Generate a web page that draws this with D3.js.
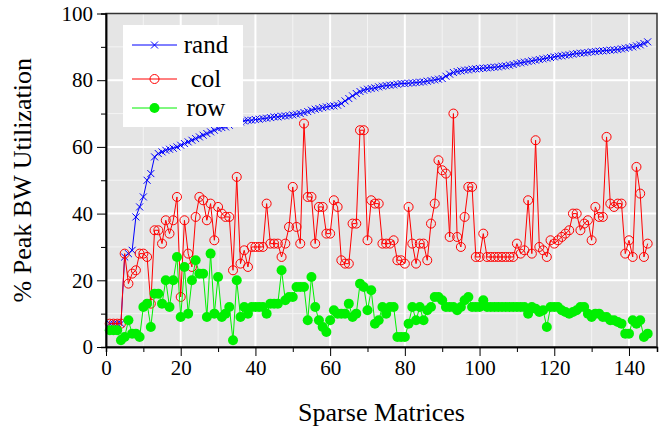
<!DOCTYPE html>
<html>
<head>
<meta charset="utf-8">
<script src="https://cdn.jsdelivr.net/npm/d3@7"></script>
<style>
  body { margin: 0; background: #fff; }
  svg { display: block; }
</style>
</head>
<body>
<div id="chart"></div>
<script>
const width = 663;
const height = 433;
const margin = { top: 13.5, right: 6, bottom: 86, left: 106 };
const serif = "'Liberation Serif', 'Times New Roman', Times, 'DejaVu Serif', serif";

const seriesNames = ["rand", "col", "row"];
const xTicks = [0, 20, 40, 60, 80, 100, 120, 140];
const yTicks = [0, 20, 40, 60, 80, 100];

// one value per sparse matrix (matrix 1 .. 145)
const randVals = [7, 7, 7, 7, 27, 28, 29, 39, 42, 45, 50, 52, 57, 58, 58.5, 59, 59.3, 59.6, 60, 60.5,
  61, 61.5, 62, 62.5, 63, 63.5, 64, 64.5, 65, 65.5, 65.8, 66, 66.5, 67, 67.2, 67.5, 67.8, 68, 68, 68.2,
  68.3, 68.5, 68.6, 68.8, 69, 69, 69.2, 69.3, 69.4, 69.6, 69.8, 70, 70.3, 70.6, 71, 71.3, 71.5, 71.8, 72, 72.2,
  72.3, 72.5, 73, 73.8, 74.5, 75.3, 76, 76.6, 77, 77.3, 77.5, 77.7, 78, 78.2, 78.4, 78.5, 78.6, 78.8, 79, 79,
  79.1, 79.2, 79.3, 79.4, 79.5, 79.7, 79.9, 80.1, 80.3, 80.5, 81.2, 81.8, 82.3, 82.6, 82.8, 83, 83.1, 83.3, 83.4, 83.5,
  83.6, 83.7, 83.8, 83.9, 84, 84.2, 84.3, 84.5, 84.7, 85, 85.2, 85.4, 85.6, 85.8, 86, 86.2, 86.4, 86.6, 86.8, 87,
  87.2, 87.3, 87.5, 87.6, 87.8, 88, 88.1, 88.2, 88.3, 88.5, 88.6, 88.7, 88.8, 88.9, 89, 89.1, 89.2, 89.4, 89.6, 89.8,
  90, 90.3, 90.6, 91, 91.5];

const colVals = [7, 7, 7, 7, 28, 19, 22, 23, 28, 28, 27, 13, 35, 35, 31, 38, 34, 38, 45, 15,
  38, 28, 24, 39, 45, 44, 38, 43, 32, 42, 40, 39, 39, 23, 51, 25, 29, 24, 30, 30,
  30, 30, 43, 31, 31, 31, 27, 31, 36, 48, 36, 31, 67, 45, 45, 31, 42, 42, 34, 34,
  44, 42, 26, 25, 25, 37, 37, 65, 65, 32, 44, 43, 43, 31, 31, 31, 32, 26, 26, 25,
  42, 31, 25, 31, 31, 26, 37, 43, 56, 53, 52, 33, 70, 33, 30, 39, 48, 48, 27, 27,
  34, 27, 27, 27, 27, 27, 27, 27, 27, 31, 28, 29, 44, 28, 62, 30, 29, 27, 32, 31,
  32, 33, 34, 35, 40, 40, 35, 37, 38, 32, 42, 39, 39, 63, 43, 42, 43, 43, 28, 32,
  27, 54, 46, 27, 31];

const rowVals = [5, 5, 5, 2, 3, 8, 4, 4, 3, 12, 13, 6, 16, 16, 13, 20, 12, 20, 27, 9,
  24, 10, 20, 26, 22, 22, 9, 28, 10, 21, 9, 10, 12, 2, 20, 9, 12, 10, 12, 12,
  12, 12, 10, 13, 13, 13, 23, 14, 15, 15, 18, 18, 18, 8, 21, 12, 8, 6, 4.5, 8,
  11, 10, 10, 10, 13, 9, 10, 19, 18, 11, 17, 7, 8, 12, 10, 12, 12, 3, 3, 3,
  7, 12, 8, 12, 8, 11, 12, 15, 15, 14, 12, 12, 12, 11, 12, 14, 15, 12, 12, 12,
  14, 12, 12, 12, 12, 12, 12, 12, 12, 12, 12, 12, 10, 12, 11.5, 10.5, 11, 6, 12, 12,
  12, 11, 10.5, 10, 10.5, 11, 12, 12, 10, 9, 10, 10, 9, 9, 8, 8, 7.5, 7, 4, 4,
  8, 7, 8, 3, 4];

const colors = { rand: "#0000ff", col: "#ff0000", row: "#00f000" };

const svg = d3.select("#chart").append("svg")
  .attr("width", width)
  .attr("height", height)
  .attr("font-family", serif);

const x = d3.scaleLinear().domain([0, 147.5]).range([margin.left, width - margin.right]);
const y = d3.scaleLinear().domain([0, 100]).range([height - margin.bottom, margin.top]);

// panel + grid
svg.append("rect")
  .attr("x", x(0)).attr("y", y(100))
  .attr("width", x(147.5) - x(0)).attr("height", y(0) - y(100))
  .attr("fill", "#e5e5e5");

const minorX = d3.range(10, 147, 20);
const minorY = d3.range(10, 100, 20);
const grid = svg.append("g");
grid.selectAll(".gx").data(minorX).join("line")
  .attr("x1", d => x(d)).attr("x2", d => x(d))
  .attr("y1", y(0)).attr("y2", y(100))
  .attr("stroke", "#f4f4f4").attr("stroke-width", 1);
grid.selectAll(".gy").data(minorY).join("line")
  .attr("x1", x(0)).attr("x2", x(147.5))
  .attr("y1", d => y(d)).attr("y2", d => y(d))
  .attr("stroke", "#f4f4f4").attr("stroke-width", 1);
grid.selectAll(".Gx").data(xTicks.slice(1)).join("line")
  .attr("x1", d => x(d)).attr("x2", d => x(d))
  .attr("y1", y(0)).attr("y2", y(100))
  .attr("stroke", "#fff").attr("stroke-width", 2);
grid.selectAll(".Gy").data(yTicks.slice(1, -1)).join("line")
  .attr("x1", x(0)).attr("x2", x(147.5))
  .attr("y1", d => y(d)).attr("y2", d => y(d))
  .attr("stroke", "#fff").attr("stroke-width", 2);

// series
const series = [
  { name: "rand", values: randVals },
  { name: "col", values: colVals },
  { name: "row", values: rowVals }
];

const line = d3.line()
  .x((d, i) => x(i + 1))
  .y(d => y(d));

series.forEach(s => {
  const g = svg.append("g");
  g.append("path")
    .datum(s.values)
    .attr("d", line)
    .attr("fill", "none")
    .attr("stroke", colors[s.name])
    .attr("stroke-width", 1);
  drawMarkers(g, s.name, s.values.map((v, i) => [x(i + 1), y(v)]));
});

function drawMarkers(g, name, pts) {
  if (name === "rand") {
    g.selectAll("path.m").data(pts).join("path")
      .attr("class", "m")
      .attr("d", d => `M${d[0] - 3.5},${d[1] - 3.5}L${d[0] + 3.5},${d[1] + 3.5}M${d[0] - 3.5},${d[1] + 3.5}L${d[0] + 3.5},${d[1] - 3.5}`)
      .attr("stroke", colors.rand).attr("stroke-width", 1);
  } else if (name === "col") {
    g.selectAll("circle").data(pts).join("circle")
      .attr("cx", d => d[0]).attr("cy", d => d[1]).attr("r", 4.5)
      .attr("fill", "none").attr("stroke", colors.col).attr("stroke-width", 1);
  } else {
    g.selectAll("circle").data(pts).join("circle")
      .attr("cx", d => d[0]).attr("cy", d => d[1]).attr("r", 5)
      .attr("fill", colors.row);
  }
}

// frame
svg.append("rect")
  .attr("x", x(0)).attr("y", y(100))
  .attr("width", x(147.5) - x(0)).attr("height", y(0) - y(100))
  .attr("fill", "none").attr("stroke", "#333").attr("stroke-width", 1.5);

// axes
svg.append("g")
  .attr("transform", `translate(0,${y(0)})`)
  .call(d3.axisBottom(x).tickValues(xTicks).tickSize(9).tickSizeOuter(0).tickPadding(4));
svg.append("g")
  .attr("transform", `translate(0,${y(0)})`)
  .call(d3.axisBottom(x).tickValues(d3.range(10, 147, 20)).tickSize(5).tickFormat(""));
svg.append("g")
  .attr("transform", `translate(${x(0)},0)`)
  .call(d3.axisLeft(y).tickValues(yTicks).tickSize(9).tickSizeOuter(0).tickPadding(4));
svg.append("g")
  .attr("transform", `translate(${x(0)},0)`)
  .call(d3.axisLeft(y).tickValues(minorY).tickSize(5).tickFormat(""));

svg.selectAll(".domain").attr("stroke", "#000").attr("stroke-width", 1.5);
svg.selectAll(".tick line").attr("stroke", "#000");
svg.selectAll("g").attr("font-family", serif);
svg.selectAll(".tick text")
  .attr("fill", "#000")
  .attr("font-size", 21);

svg.append("text")
  .attr("x", (x(0) + x(147.5)) / 2)
  .attr("y", 421)
  .attr("text-anchor", "middle")
  .attr("font-size", 26)
  .text("Sparse Matrices");

svg.append("text")
  .attr("transform", `translate(31,${(y(0) + y(100)) / 2}) rotate(-90)`)
  .attr("text-anchor", "middle")
  .attr("font-size", 26)
  .text("% Peak BW Utilization");

// legend
const legend = svg.append("g");
legend.append("rect")
  .attr("x", 123).attr("y", 25).attr("width", 120).attr("height", 102)
  .attr("fill", "#fff");
const rowsY = [45, 79, 108];
seriesNames.forEach((name, i) => {
  const ly = rowsY[i];
  legend.append("line")
    .attr("x1", 132).attr("x2", 177).attr("y1", ly).attr("y2", ly)
    .attr("stroke", colors[name]).attr("stroke-width", 1);
  drawMarkers(legend.append("g"), name, [[154.5, ly]]);
  legend.append("text")
    .attr("x", 206).attr("y", ly + 8)
    .attr("text-anchor", "middle")
    .attr("font-size", 25)
    .text(name);
});
</script>
</body>
</html>
